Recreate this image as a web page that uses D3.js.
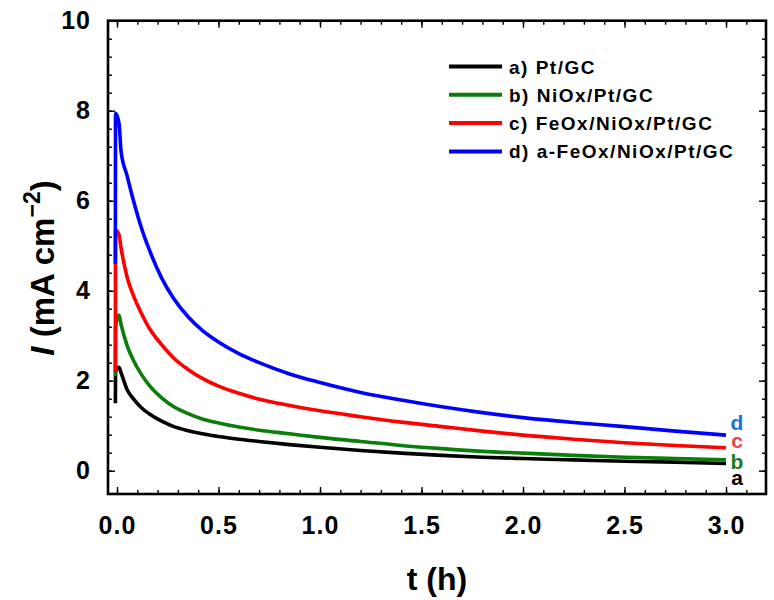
<!DOCTYPE html>
<html><head><meta charset="utf-8">
<script src="https://cdn.jsdelivr.net/npm/d3@7"></script>
<style>body{margin:0;background:#fff}</style>
</head><body><svg id="c" width="774" height="600"></svg>
<script>
// ---- data ----
const timeH = [-0.008,-0.007,0.01,0.02,0.05,0.08,0.12,0.16,0.22,0.28,0.35,0.42,0.5,0.6,0.7,0.85,1.0,1.2,1.4,1.6,1.8,2.0,2.25,2.5,2.75,3.0];
const seriesA = [1.5,2.2,2.3,2.18,1.8,1.6,1.4,1.26,1.1,0.98,0.89,0.82,0.76,0.7,0.65,0.58,0.52,0.45,0.39,0.34,0.3,0.27,0.24,0.21,0.19,0.16];
const seriesB = [2.1,3.2,3.46,3.25,2.78,2.46,2.14,1.89,1.62,1.42,1.27,1.15,1.06,0.97,0.9,0.82,0.74,0.65,0.56,0.49,0.43,0.39,0.34,0.3,0.27,0.24];
const seriesC = [2.2,5.35,5.24,4.95,4.3,3.9,3.5,3.16,2.8,2.5,2.25,2.05,1.88,1.72,1.59,1.45,1.33,1.2,1.08,0.98,0.88,0.79,0.7,0.62,0.56,0.51];
const seriesD = [4.6,7.94,7.72,7.1,6.55,6.02,5.4,4.9,4.28,3.82,3.42,3.12,2.86,2.6,2.4,2.15,1.96,1.74,1.57,1.42,1.29,1.18,1.07,0.98,0.88,0.79];
const seriesNames = ["a) Pt/GC","b) NiOx/Pt/GC","c) FeOx/NiOx/Pt/GC","d) a-FeOx/NiOx/Pt/GC"];
const endLabels = ["a","b","c","d"];
const xTickValues = [0,0.5,1,1.5,2,2.5,3];
const xTickLabels = ["0.0","0.5","1.0","1.5","2.0","2.5","3.0"];
const yTickValues = [0,2,4,6,8,10];
const yTickLabels = ["0","2","4","6","8","10"];

// ---- styles ----
const lineColors = ["#000000","#0a7d0a","#ff0000","#0000ff"];
const labelColors = ["#000000","#1a7d1a","#e8444c","#1f6fd0"];
const allSeries = [seriesA, seriesB, seriesC, seriesD];
const FONT = "Arial, 'Liberation Sans', Helvetica, sans-serif";

const svg = d3.select("#c");
svg.append("rect").attr("width",774).attr("height",600).attr("fill","#fff");

const L=108, R=766, T=20.7, B=494;
const x = d3.scaleLinear().domain([-0.0443, 3.197]).range([L, R]);
const y = d3.scaleLinear().domain([-0.518, 10]).range([B, T]);

const xMinor = d3.range(0, 3.15, 0.1).map(v=>+v.toFixed(2));
const yMinor = d3.range(0, 10.01, 0.4).map(v=>+v.toFixed(2));

function styleAxis(g){ g.select(".domain").remove(); g.selectAll("line").attr("stroke","#000").attr("stroke-width",1.4); }

// minor ticks
svg.append("g").attr("transform",`translate(0,${B})`).call(d3.axisBottom(x).tickValues(xMinor).tickSize(-4).tickFormat("")).call(styleAxis);
svg.append("g").attr("transform",`translate(0,${T})`).call(d3.axisTop(x).tickValues(xMinor).tickSize(-4).tickFormat("")).call(styleAxis);
svg.append("g").attr("transform",`translate(${L},0)`).call(d3.axisLeft(y).tickValues(yMinor).tickSize(-4).tickFormat("")).call(styleAxis);
svg.append("g").attr("transform",`translate(${R},0)`).call(d3.axisRight(y).tickValues(yMinor).tickSize(-4).tickFormat("")).call(styleAxis);

// major ticks with labels
const xa = svg.append("g").attr("transform",`translate(0,${B})`)
  .call(d3.axisBottom(x).tickValues(xTickValues).tickSize(-7).tickPadding(22).tickFormat((d,i)=>xTickLabels[i]))
  .call(styleAxis);
xa.selectAll("text").attr("font-family",FONT).attr("font-weight","bold").attr("font-size",25).attr("letter-spacing",1).attr("fill","#000");
svg.append("g").attr("transform",`translate(0,${T})`).call(d3.axisTop(x).tickValues(xTickValues).tickSize(-7).tickFormat("")).call(styleAxis);
const ya = svg.append("g").attr("transform",`translate(${L},0)`)
  .call(d3.axisLeft(y).tickValues(yTickValues).tickSize(-7).tickPadding(17).tickFormat((d,i)=>yTickLabels[i]))
  .call(styleAxis);
ya.selectAll("text").attr("font-family",FONT).attr("font-weight","bold").attr("font-size",25).attr("letter-spacing",1).attr("fill","#000");
svg.append("g").attr("transform",`translate(${R},0)`).call(d3.axisRight(y).tickValues(yTickValues).tickSize(-7).tickFormat("")).call(styleAxis);

// frame
svg.append("rect").attr("x",L).attr("y",T).attr("width",R-L).attr("height",B-T)
  .attr("fill","none").attr("stroke","#000").attr("stroke-width",2.6);

// curves
const line = d3.line().x(d=>x(d[0])).y(d=>y(d[1])).curve(d3.curveMonotoneX);
allSeries.forEach((s,i)=>{
  svg.append("path").datum(timeH.map((t,j)=>[t,s[j]]))
    .attr("d",line).attr("fill","none").attr("stroke",lineColors[i])
    .attr("stroke-width",3.6).attr("stroke-linejoin","round");
});

// end labels
const endBase = [485,469,448,430];
endLabels.forEach((t,i)=>{
  svg.append("text").attr("x",737).attr("y",endBase[i]).attr("text-anchor","middle")
    .attr("font-family",FONT).attr("font-weight","bold").attr("font-size",21)
    .attr("fill",labelColors[i]).text(t);
});

// legend
seriesNames.forEach((n,i)=>{
  const by = 73.5 + i*28.3;
  svg.append("line").attr("x1",449).attr("x2",502).attr("y1",by-7).attr("y2",by-7)
    .attr("stroke",lineColors[i]).attr("stroke-width",4);
  svg.append("text").attr("x",509).attr("y",by).attr("font-family",FONT).attr("font-weight","bold")
    .attr("font-size",19).attr("letter-spacing",1.5).attr("fill","#000").text(n);
});

// axis titles
svg.append("text").attr("x",437).attr("y",590).attr("text-anchor","middle")
  .attr("font-family",FONT).attr("font-weight","bold").attr("font-size",32).text("t (h)");
const yt = svg.append("text").attr("transform","translate(54,268) rotate(-90)").attr("text-anchor","middle")
  .attr("font-family",FONT).attr("font-weight","bold").attr("font-size",33);
yt.append("tspan").attr("font-style","italic").text("I");
yt.append("tspan").text(" (mA cm");
yt.append("tspan").attr("font-size",23).attr("dy",-14).text("\u22122");
yt.append("tspan").attr("dy",14).text(")");
</script>
</body></html>
